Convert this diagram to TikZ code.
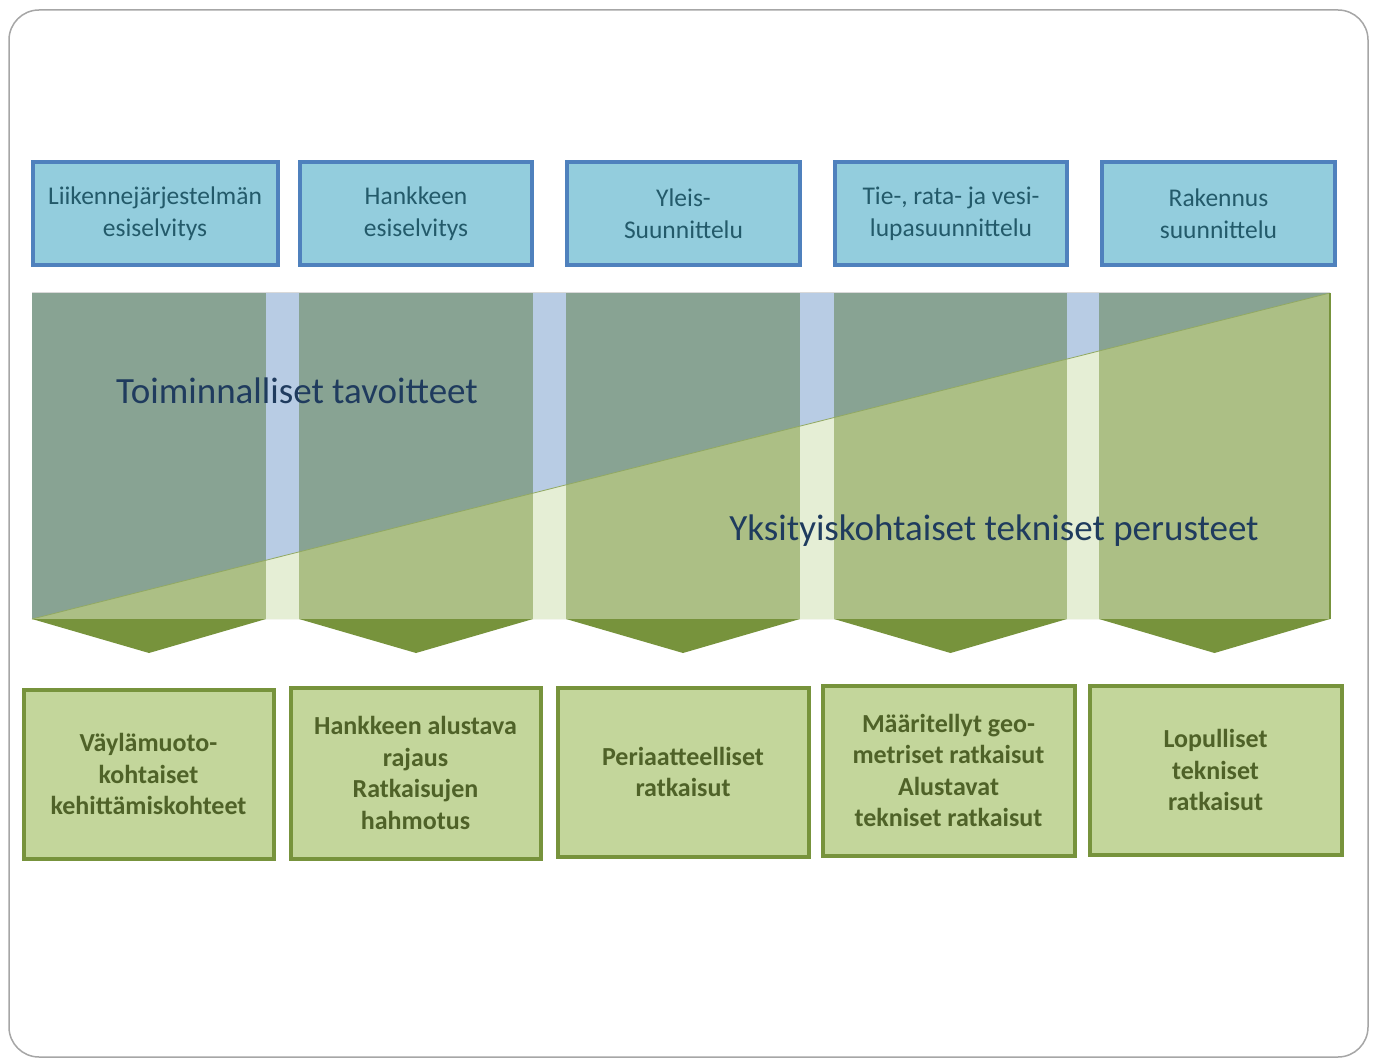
\documentclass[tikz,border=0pt]{standalone}
\usepackage{fontspec}
\setmainfont{Carlito}
\definecolor{topfill}{HTML}{93CDDD}
\definecolor{topdraw}{HTML}{4F81BD}
\definecolor{toptext}{HTML}{235A6A}
\definecolor{darkband}{HTML}{88A393}
\definecolor{lightband}{HTML}{ACBF85}
\definecolor{gapblue}{HTML}{B8CCE4}
\definecolor{gapgreen}{HTML}{E5EED5}
\definecolor{chev}{HTML}{77933C}
\definecolor{botfill}{HTML}{C3D69B}
\definecolor{bottext}{HTML}{4F6228}
\definecolor{bigtext}{HTML}{1F3B5E}
\definecolor{frame}{HTML}{A6A6A6}
\tikzset{
  topbox/.style={draw=topdraw, fill=topfill, line width=4pt, inner sep=0pt,
    text=toptext, font=\fontsize{25.5}{32}\selectfont, align=center},
  botbox/.style={draw=chev, fill=botfill, line width=4pt, inner sep=0pt,
    text=bottext, font=\fontsize{26}{31.5}\selectfont\bfseries, align=center},
  bigtxt/.style={text=bigtext, font=\fontsize{37}{42}\selectfont, inner sep=0pt}
}
\begin{document}
\begin{tikzpicture}[x=1pt,y=-1pt]
\useasboundingbox (0,0) rectangle (1374,1059);
\fill[white] (0,0) rectangle (1374,1059);
% frame
\draw[frame, line width=1.5pt, rounded corners=30pt] (9,10) rectangle (1368,1057);
% top boxes
\node[topbox, minimum width=245pt, minimum height=103pt] (t1) at (155,214) {Liikennejärjestelmän\\esiselvitys};
\node[topbox, minimum width=232pt, minimum height=103pt] (t2) at (416,214) {Hankkeen\\esiselvitys};
\node[topbox, minimum width=233pt, minimum height=103pt] (t3) at (683.5,214) {Yleis-\\Suunnittelu};
\node[topbox, minimum width=232pt, minimum height=103pt] (t4) at (951,214) {Tie-, rata- ja vesi-\\lupasuunnittelu};
\node[topbox, minimum width=233pt, minimum height=103pt] (t5) at (1218.5,214) {Rakennus\\suunnittelu};
% band
\fill[darkband] (32,293) rectangle (1330,619);
\fill[lightband] (32,619) -- (1330,293) -- (1330,619) -- cycle;
\foreach \a/\b in {266/299, 533/566, 800/834, 1067/1099} {
  \fill[gapblue] (\a,293) rectangle (\b,619);
}
\begin{scope}
  \clip (32,619) -- (1330,293) -- (1330,619) -- cycle;
  \foreach \a/\b in {266/299, 533/566, 800/834, 1067/1099} {
    \fill[gapgreen] (\a,293) rectangle (\b,619);
  }
\end{scope}
\draw[chev!80!white, line width=0.8pt] (32,619) -- (1330,293);
\draw[gray!30, line width=1pt] (32,293) -- (1330,293);
\draw[chev, line width=1.5pt] (1330,293) -- (1330,619);
% chevrons
\foreach \a/\b in {32/266, 299/533, 566/800, 834/1067, 1099/1330} {
  \fill[chev] (\a,619) -- (\b,619) -- ({(\a+\b)/2},653) -- cycle;
}
\node[bigtxt, anchor=base] (g1) at (297,403) {Toiminnalliset tavoitteet};
\node[bigtxt, anchor=base] (g2) at (994,540) {Yksityiskohtaiset tekniset perusteet};
% bottom boxes
\node[botbox, minimum width=250pt, minimum height=169pt] (b1) at (148.5,774) {Väylämuoto-\\kohtaiset\\kehittämiskohteet};
\node[botbox, minimum width=250pt, minimum height=171pt] (b2) at (415.5,773) {Hankkeen alustava\\rajaus\\Ratkaisujen\\hahmotus};
\node[botbox, minimum width=251pt, minimum height=169pt] (b3) at (683,772) {Periaatteelliset\\ratkaisut};
\node[botbox, minimum width=252pt, minimum height=170pt] (b4) at (948.5,770.5) {Määritellyt geo-\\metriset ratkaisut\\Alustavat\\tekniset ratkaisut};
\node[botbox, minimum width=252pt, minimum height=169pt] (b5) at (1215.5,770) {Lopulliset\\tekniset\\ratkaisut};
\end{tikzpicture}
\end{document}
